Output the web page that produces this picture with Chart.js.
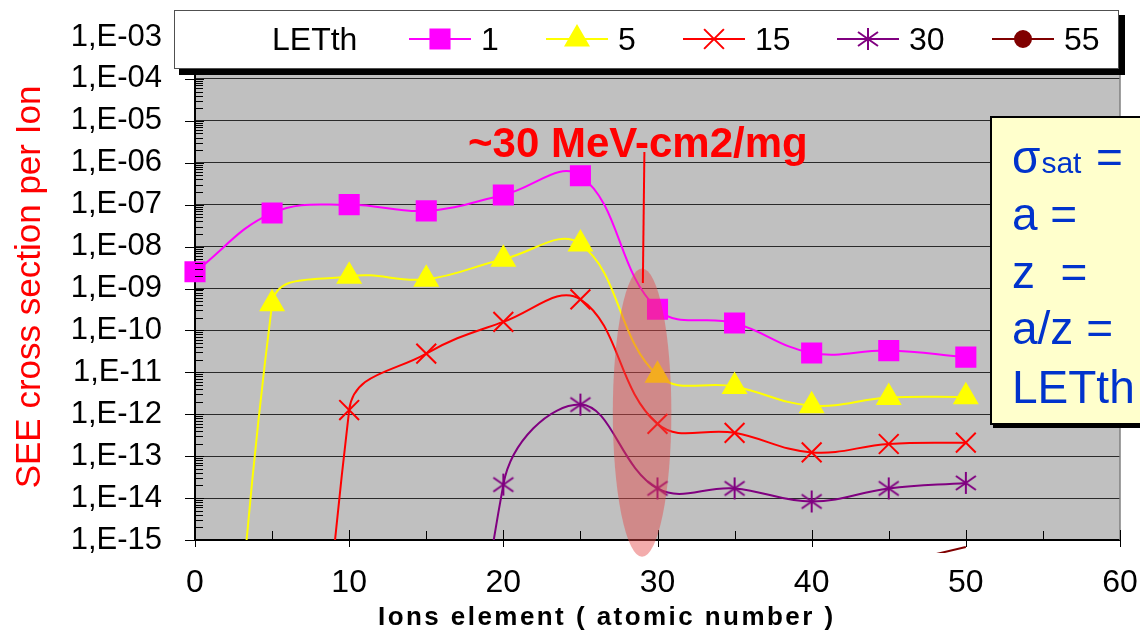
<!DOCTYPE html>
<html>
<head>
<meta charset="utf-8">
<script src="https://cdn.jsdelivr.net/npm/chart.js@4.4.1/dist/chart.umd.min.js"></script>
<style>
  html, body { margin: 0; padding: 0; background: #fff; }
  #graph { display: block; }
</style>
</head>
<body>
<canvas id="graph" width="1140" height="632"></canvas>
<script>
// atomic number of each ion (x values)
const atomicNumbers = [0, 5, 10, 15, 20, 25, 30, 35, 40, 45, 50]

// cross sections per LETth curve, null = no point
// (very small values sit below the axis, only the line coming up is seen)
const let1  = [2.5e-9, 6.3e-8, 1.0e-7, 7.1e-8, 1.7e-7, 4.9e-7, 3.2e-10, 1.5e-10, 2.9e-11, 3.3e-11, 2.3e-11]
const let5  = [1e-38, 4.3e-10, 1.95e-9, 1.66e-9, 5.0e-9, 1.15e-8, 8.5e-12, 4.6e-12, 1.6e-12, 2.5e-12, 2.6e-12]
const let15 = [null, 1e-42, 1.26e-12, 2.8e-11, 1.6e-10, 5.5e-10, 5.9e-13, 3.6e-13, 1.23e-13, 1.95e-13, 2.1e-13]
const let30 = [null, null, null, 1e-32, 2.1e-14, 1.7e-12, 1.7e-14, 1.7e-14, 8.3e-15, 1.7e-14, 2.3e-14]
const let55 = [null, null, null, null, null, null, null, null, null, 2.5e-16, 6.8e-16]

const seriesNames = ['1', '5', '15', '30', '55']

const yDecades = [-15, -14, -13, -12, -11, -10, -9, -8, -7, -6, -5, -4, -3]
const yTickLabels = ['1,E-15', '1,E-14', '1,E-13', '1,E-12', '1,E-11', '1,E-10', '1,E-09',
                     '1,E-08', '1,E-07', '1,E-06', '1,E-05', '1,E-04', '1,E-03']
const xTickValues = [0, 10, 20, 30, 40, 50, 60]
const xTickLabels = ['0', '10', '20', '30', '40', '50', '60']

const FONT = '"Liberation Sans", Arial, sans-serif'
const NARROW = '"Liberation Sans Narrow", "Arial Narrow", "Liberation Sans", Arial, sans-serif'

// asterisk marker (X + vertical bar) like the excel one
function makeStar(color) {
    const c = document.createElement('canvas')
    c.width = 24; c.height = 24
    const g = c.getContext('2d')
    g.strokeStyle = color
    g.lineWidth = 2
    g.beginPath()
    g.moveTo(12, 1); g.lineTo(12, 23)
    g.moveTo(2, 5); g.lineTo(22, 19)
    g.moveTo(2, 19); g.lineTo(22, 5)
    g.stroke()
    return c
}

function points(values) {
    const out = []
    values.forEach((v, i) => { if (v !== null) out.push({ x: atomicNumbers[i], y: v }) })
    return out
}

function series(name, values, color, style, radius, extra) {
    return Object.assign({
        label: name,
        data: points(values),
        borderColor: color,
        backgroundColor: color,
        pointBackgroundColor: color,
        pointBorderColor: color,
        pointStyle: style,
        pointRadius: radius,
        pointBorderWidth: 2,
        borderWidth: 2,
        tension: 0.4,
    }, extra || {})
}

const starPurple = makeStar('#800080')

const datasets = [
    series(seriesNames[0], let1, '#ff00ff', 'rect', 13.5, { clip: { left: 15, top: 0, right: 0, bottom: 0 } }),
    series(seriesNames[1], let5, '#ffff00', 'triangle', 13),
    series(seriesNames[2], let15, '#ff0000', 'crossRot', 14),
    series(seriesNames[3], let30, '#800080', starPurple, 11),
    series(seriesNames[4], let55, '#800000', 'circle', 0, { clip: { left: 0, top: 0, right: 0, bottom: 13 } }),
]
// marker sizes used in the legend
const legendRadius = [13.5, 13, 14, 11, 8]

const decor = {
    id: 'decor',
    beforeDraw(chart) {
        const { ctx, chartArea: a } = chart
        ctx.save()
        ctx.fillStyle = '#fff'
        ctx.fillRect(0, 0, chart.width, chart.height)
        ctx.fillStyle = '#c0c0c0'
        ctx.fillRect(a.left, a.top, a.right - a.left, a.bottom - a.top)
        ctx.restore()
    },
    afterDatasetsDraw(chart) {
        const { ctx, chartArea: a } = chart
        const xs = chart.scales.x, ys = chart.scales.y
        ctx.save()
        // right border of plot
        ctx.strokeStyle = '#808080'
        ctx.lineWidth = 1.5
        ctx.beginPath()
        ctx.moveTo(a.right, a.top); ctx.lineTo(a.right, a.bottom)
        ctx.stroke()

        // y ticks: major crossing, minor inside
        ctx.strokeStyle = '#000'
        ctx.lineWidth = 1
        ctx.beginPath()
        yDecades.forEach(e => {
            const y = Math.round(ys.getPixelForValue(Number('1e' + e))) + 0.5
            ctx.moveTo(a.left - 10, y); ctx.lineTo(a.left + 9, y)
            if (e < -3) {
                for (let k = 2; k <= 9; k++) {
                    const ym = Math.round(ys.getPixelForValue(k * Number('1e' + e))) + 0.5
                    ctx.moveTo(a.left, ym); ctx.lineTo(a.left + 8, ym)
                }
            }
        })
        // x ticks every 5
        for (let v = 0; v <= 60; v += 5) {
            const x = Math.round(xs.getPixelForValue(v)) + 0.5
            if (v % 10 === 0) { ctx.moveTo(x, a.bottom - 10); ctx.lineTo(x, a.bottom + 7) }
            else { ctx.moveTo(x, a.bottom - 9); ctx.lineTo(x, a.bottom) }
        }
        ctx.stroke()

        // shaded ellipse round the threshold region
        const cx = xs.getPixelForValue(29)
        const rx = xs.getPixelForValue(30.9) - cx
        const top = ys.getPixelForValue(3e-9)
        const bot = ys.getPixelForValue(4e-16)
        ctx.fillStyle = 'rgba(228, 72, 72, 0.45)'
        ctx.beginPath()
        ctx.ellipse(cx, (top + bot) / 2, rx, (bot - top) / 2, 0, 0, Math.PI * 2)
        ctx.fill()
        ctx.restore()
    },
    afterDraw(chart) {
        const { ctx } = chart
        const xs = chart.scales.x, ys = chart.scales.y
        ctx.save()

        // legend box
        ctx.fillStyle = '#000'
        ctx.fillRect(179, 15, 946, 60)
        ctx.fillStyle = '#fff'
        ctx.fillRect(174, 10, 945, 59)
        ctx.strokeStyle = '#505050'
        ctx.lineWidth = 1
        ctx.strokeRect(174.5, 10.5, 944, 58)
        ctx.fillStyle = '#000'
        ctx.font = '32px ' + FONT
        ctx.textBaseline = 'alphabetic'
        ctx.textAlign = 'left'
        ctx.fillText('LETth', 272, 50)
        const markX = [440, 577, 714, 868, 1023]
        chart.data.datasets.forEach((ds, i) => {
            const mx = markX[i], my = 39
            ctx.strokeStyle = ds.borderColor
            ctx.lineWidth = 2
            ctx.beginPath()
            ctx.moveTo(mx - 31, my); ctx.lineTo(mx + 31, my)
            ctx.stroke()
            ctx.fillStyle = ds.borderColor
            Chart.helpers.drawPoint(ctx, { pointStyle: ds.pointStyle, radius: legendRadius[i], rotation: 0, borderWidth: 2 }, mx, my)
            ctx.fillStyle = '#000'
            ctx.fillText(ds.label, mx + 41, 50)
        })

        // annotation
        ctx.fillStyle = '#ff0000'
        ctx.font = 'bold 42px ' + FONT
        ctx.fillText('~30 MeV-cm2/mg', 468, 157)
        ctx.strokeStyle = '#ff0000'
        ctx.lineWidth = 2
        ctx.beginPath()
        ctx.moveTo(xs.getPixelForValue(29.15), 152)
        ctx.lineTo(xs.getPixelForValue(29.05), ys.getPixelForValue(1.35e-9))
        ctx.stroke()

        // formula box
        ctx.fillStyle = '#000'
        ctx.fillRect(993, 119, 160, 309)
        ctx.fillStyle = '#ffffcc'
        ctx.fillRect(990, 116, 160, 308)
        ctx.strokeStyle = '#000'
        ctx.lineWidth = 2
        ctx.strokeRect(991, 117, 160, 307)
        ctx.fillStyle = '#0033cc'
        ctx.font = '46px ' + FONT
        ctx.fillText('σ', 1012, 173)
        const sw = ctx.measureText('σ').width
        ctx.font = '30px ' + FONT
        ctx.fillText('sat', 1012 + sw + 1, 173)
        ctx.font = '46px ' + FONT
        ctx.fillText('=', 1096, 173)
        ctx.fillText('a =', 1012, 230)
        ctx.fillText('z  =', 1012, 288)
        ctx.fillText('a/z =', 1012, 344)
        ctx.fillText('LETth', 1012, 403)

        // axis titles
        ctx.fillStyle = '#ff0000'
        ctx.font = '35px ' + FONT
        ctx.save()
        ctx.translate(40, 287)
        ctx.rotate(-Math.PI / 2)
        ctx.textAlign = 'center'
        ctx.fillText('SEE cross section per Ion', 0, 0)
        ctx.restore()

        ctx.fillStyle = '#000'
        ctx.font = 'bold 26px ' + FONT
        const title = 'Ions element ( atomic number )'
        const w0 = ctx.measureText(title).width
        ctx.letterSpacing = Math.max(0, (455 - w0) / (title.length - 1)).toFixed(2) + 'px'
        ctx.textAlign = 'left'
        ctx.fillText(title, 378, 625)
        ctx.restore()
    }
}

document.addEventListener('DOMContentLoaded', function() {
    const context = document.querySelector('#graph').getContext('2d')
    new Chart(context, {
        type: 'line',
        data: { datasets: datasets },
        options: {
            responsive: false,
            animation: false,
            devicePixelRatio: 1,
            events: [],
            layout: { padding: { top: 37, right: 20, left: 0, bottom: 0 } },
            plugins: {
                legend: { display: false },
                tooltip: { enabled: false },
            },
            scales: {
                x: {
                    type: 'linear',
                    min: 0,
                    max: 60,
                    afterFit(s) { s.height = 92; s.paddingLeft = 0; s.paddingRight = 0 },
                    afterBuildTicks(s) { s.ticks = xTickValues.map(v => ({ value: v })) },
                    grid: { display: false, drawTicks: false },
                    border: { display: true, color: '#000', width: 2 },
                    ticks: {
                        padding: 24,
                        color: '#000',
                        autoSkip: false,
                        maxRotation: 0,
                        font: { family: NARROW, size: 32 },
                        callback: (v, i) => xTickLabels[i],
                    },
                },
                y: {
                    type: 'logarithmic',
                    min: 1e-15,
                    max: 1e-3,
                    afterFit(s) { s.width = 195; s.paddingTop = 0; s.paddingBottom = 0 },
                    afterBuildTicks(s) { s.ticks = yDecades.map(e => ({ value: Number('1e' + e) })) },
                    grid: { color: '#2a2a2a', lineWidth: 1, drawTicks: false },
                    border: { display: true, color: '#000', width: 2 },
                    ticks: {
                        padding: 33,
                        color: '#000',
                        autoSkip: false,
                        font: { family: FONT, size: 31 },
                        callback: (v, i) => yTickLabels[i],
                    },
                },
            },
        },
        plugins: [decor],
    })
})
</script>
</body>
</html>
